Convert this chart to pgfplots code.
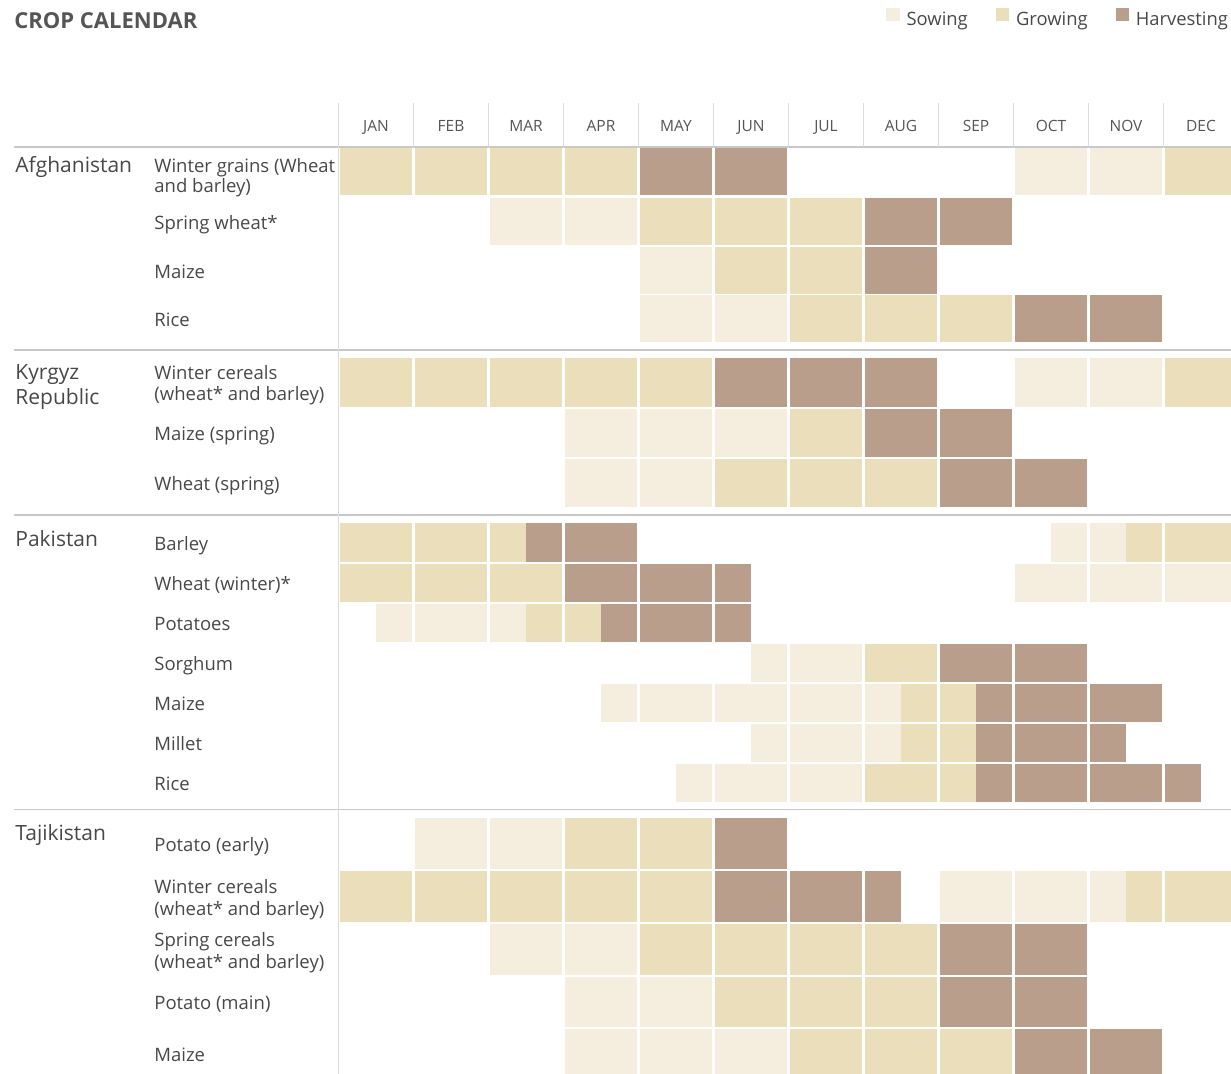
\documentclass[border=0pt]{standalone}
\usepackage{pgfplots}
\pgfplotsset{compat=1.18}
\usepackage{fontspec}
\setmainfont{Open Sans}
\definecolor{csow}{RGB}{245,237,222}
\definecolor{cgrow}{RGB}{235,223,187}
\definecolor{charv}{RGB}{184,158,139}
\definecolor{txt}{RGB}{72,72,72}
\definecolor{ttl}{RGB}{85,85,85}
\definecolor{rulec}{RGB}{200,200,200}
\definecolor{vrulec}{RGB}{220,220,220}
\newcommand{\lab}{\fontsize{9.25pt}{11pt}\selectfont}
\newcommand{\ctry}{\fontsize{10.5pt}{12pt}\selectfont}
\newcommand{\mon}{\fontsize{7.75pt}{9pt}\selectfont}
% a filled rectangle mark whose size (in axis units) comes from the data
\pgfdeclareplotmark{cropcell}{%
  \pgfpathrectanglecorners
    {\pgfpoint{-0.5*\cw*\pgfplotsunitxlength}{-0.5*\ch*\pgfplotsunitylength}}
    {\pgfpoint{0.5*\cw*\pgfplotsunitxlength}{0.5*\ch*\pgfplotsunitylength}}%
  \pgfusepathqfill}
\begin{document}
\begin{tikzpicture}
\begin{axis}[
  scale only axis, width=615.5pt, height=537pt,
  xmin=-4.51333, xmax=11.9, ymin=0, ymax=1074, y dir=reverse,
  disabledatascaling,
  hide axis, clip=false,
  declare function={sh(\x)=0.0167*(abs(\x-round(\x))<0.01);},
  legend columns=3,
  legend cell align=left,
  legend style={draw=none, fill=none, inner sep=0pt, outer sep=0pt,
    at={(axis description cs:0.99756,0.99255)}, anchor=north east,
    font=\fontsize{9.2pt}{11pt}\selectfont, text=txt,
    nodes={inner sep=0pt},
    /tikz/every odd column/.append style={column sep=3.5pt},
    /tikz/every even column/.append style={column sep=14pt}},
]
\addlegendimage{legend image code/.code={\fill[csow] (0pt,-0.3pt) rectangle (6.2pt,5.9pt);}}
\addlegendentry{Sowing}
\addlegendimage{legend image code/.code={\fill[cgrow] (0pt,-0.3pt) rectangle (6.2pt,5.9pt);}}
\addlegendentry{Growing}
\addlegendimage{legend image code/.code={\fill[charv] (0pt,-0.3pt) rectangle (6.2pt,5.9pt);}}
\addlegendentry{Harvesting}

% rules
\addplot[rulec, line width=0.8pt, forget plot] coordinates {(-4.3267,147.3) (11.9,147.3)};
\addplot[rulec, line width=0.8pt, forget plot] coordinates {(-4.3267,350) (11.9,350)};
\addplot[rulec, line width=0.8pt, forget plot] coordinates {(-4.3267,515.3) (11.9,515.3)};
\addplot[rulec, line width=0.8pt, forget plot] coordinates {(-4.3267,809.3) (11.9,809.3)};
\addplot[vrulec, line width=0.6pt, forget plot] coordinates {(0,103) (0,1074)};
\pgfplotsinvokeforeach{1,...,11}{
  \addplot[vrulec, line width=0.6pt, forget plot] coordinates {(#1,103) (#1,147)};
}

% cells: x0 x1 = months (JAN = 0..1), y0 y1 = row band (px from top)
% Sowing
\addplot[only marks, mark=cropcell, forget plot, color=csow, mark options={draw=none, fill=csow},
    visualization depends on={\thisrow{x1}-sh(\thisrow{x1})-\thisrow{x0}-sh(\thisrow{x0}) \as \cw},
    visualization depends on={\thisrow{y1}-\thisrow{y0} \as \ch}]
  table[x expr={(\thisrow{x0}+sh(\thisrow{x0})+\thisrow{x1}-sh(\thisrow{x1}))/2},
        y expr={(\thisrow{y0}+\thisrow{y1})/2}] {
x0 x1 y0 y1
9 10 148 195
10 11 148 195
2 3 198 245
3 4 198 245
4 5 247 294
4 5 295 342
5 6 295 342
9 10 358 407
10 11 358 407
3 4 409 457
4 5 409 457
5 6 409 457
3 4 459 507
4 5 459 507
9.5 10 523 562
10 10.5 523 562
9 10 564 602
10 11 564 602
11 12 564 602
0.5 1 604 642
1 2 604 642
2 2.5 604 642
5.5 6 644 682
6 7 644 682
3.5 4 684 722
4 5 684 722
5 6 684 722
6 7 684 722
7 7.5 684 722
5.5 6 724 762
6 7 724 762
7 7.5 724 762
4.5 5 764 802
5 6 764 802
6 7 764 802
1 2 818 869
2 3 818 869
8 9 871 922
9 10 871 922
10 10.5 871 922
2 3 924 975
3 4 924 975
3 4 977 1027
4 5 977 1027
3 4 1029 1080
4 5 1029 1080
5 6 1029 1080
};
% Growing
\addplot[only marks, mark=cropcell, forget plot, color=cgrow, mark options={draw=none, fill=cgrow},
    visualization depends on={\thisrow{x1}-sh(\thisrow{x1})-\thisrow{x0}-sh(\thisrow{x0}) \as \cw},
    visualization depends on={\thisrow{y1}-\thisrow{y0} \as \ch}]
  table[x expr={(\thisrow{x0}+sh(\thisrow{x0})+\thisrow{x1}-sh(\thisrow{x1}))/2},
        y expr={(\thisrow{y0}+\thisrow{y1})/2}] {
x0 x1 y0 y1
0 1 148 195
1 2 148 195
2 3 148 195
3 4 148 195
11 12 148 195
4 5 198 245
5 6 198 245
6 7 198 245
5 6 247 294
6 7 247 294
6 7 295 342
7 8 295 342
8 9 295 342
0 1 358 407
1 2 358 407
2 3 358 407
3 4 358 407
4 5 358 407
11 12 358 407
6 7 409 457
5 6 459 507
6 7 459 507
7 8 459 507
0 1 523 562
1 2 523 562
2 2.5 523 562
10.5 11 523 562
11 12 523 562
0 1 564 602
1 2 564 602
2 3 564 602
2.5 3 604 642
3 3.5 604 642
7 8 644 682
7.5 8 684 722
8 8.5 684 722
7.5 8 724 762
8 8.5 724 762
7 8 764 802
8 8.5 764 802
3 4 818 869
4 5 818 869
0 1 871 922
1 2 871 922
2 3 871 922
3 4 871 922
4 5 871 922
10.5 11 871 922
11 12 871 922
4 5 924 975
5 6 924 975
6 7 924 975
7 8 924 975
5 6 977 1027
6 7 977 1027
7 8 977 1027
6 7 1029 1080
7 8 1029 1080
8 9 1029 1080
};
% Harvesting
\addplot[only marks, mark=cropcell, forget plot, color=charv, mark options={draw=none, fill=charv},
    visualization depends on={\thisrow{x1}-sh(\thisrow{x1})-\thisrow{x0}-sh(\thisrow{x0}) \as \cw},
    visualization depends on={\thisrow{y1}-\thisrow{y0} \as \ch}]
  table[x expr={(\thisrow{x0}+sh(\thisrow{x0})+\thisrow{x1}-sh(\thisrow{x1}))/2},
        y expr={(\thisrow{y0}+\thisrow{y1})/2}] {
x0 x1 y0 y1
4 5 148 195
5 6 148 195
7 8 198 245
8 9 198 245
7 8 247 294
9 10 295 342
10 11 295 342
5 6 358 407
6 7 358 407
7 8 358 407
7 8 409 457
8 9 409 457
8 9 459 507
9 10 459 507
2.5 3 523 562
3 4 523 562
3 4 564 602
4 5 564 602
5 5.5 564 602
3.5 4 604 642
4 5 604 642
5 5.5 604 642
8 9 644 682
9 10 644 682
8.5 9 684 722
9 10 684 722
10 11 684 722
8.5 9 724 762
9 10 724 762
10 10.5 724 762
8.5 9 764 802
9 10 764 802
10 11 764 802
11 11.5 764 802
5 6 818 869
5 6 871 922
6 7 871 922
7 7.5 871 922
8 9 924 975
9 10 924 975
8 9 977 1027
9 10 977 1027
9 10 1029 1080
10 11 1029 1080
};

% title
\node[anchor=base west, inner sep=0pt, text=ttl, font=\fontsize{11pt}{13pt}\selectfont\bfseries] at (axis cs:-4.3267,28.3) {CROP CALENDAR};

% month labels
\node[anchor=base, inner sep=0pt, text=ttl, font=\mon] at (axis cs:0.5,132) {JAN};
\node[anchor=base, inner sep=0pt, text=ttl, font=\mon] at (axis cs:1.5,132) {FEB};
\node[anchor=base, inner sep=0pt, text=ttl, font=\mon] at (axis cs:2.5,132) {MAR};
\node[anchor=base, inner sep=0pt, text=ttl, font=\mon] at (axis cs:3.5,132) {APR};
\node[anchor=base, inner sep=0pt, text=ttl, font=\mon] at (axis cs:4.5,132) {MAY};
\node[anchor=base, inner sep=0pt, text=ttl, font=\mon] at (axis cs:5.5,132) {JUN};
\node[anchor=base, inner sep=0pt, text=ttl, font=\mon] at (axis cs:6.5,132) {JUL};
\node[anchor=base, inner sep=0pt, text=ttl, font=\mon] at (axis cs:7.5,132) {AUG};
\node[anchor=base, inner sep=0pt, text=ttl, font=\mon] at (axis cs:8.5,132) {SEP};
\node[anchor=base, inner sep=0pt, text=ttl, font=\mon] at (axis cs:9.5,132) {OCT};
\node[anchor=base, inner sep=0pt, text=ttl, font=\mon] at (axis cs:10.5,132) {NOV};
\node[anchor=base, inner sep=0pt, text=ttl, font=\mon] at (axis cs:11.5,132) {DEC};

% country labels
\node[anchor=base west, inner sep=0pt, text=txt, font=\ctry] at (axis cs:-4.3133,172.3) {Afghanistan};
\node[anchor=base west, inner sep=0pt, text=txt, font=\ctry] at (axis cs:-4.3133,380) {Kyrgyz};
\node[anchor=base west, inner sep=0pt, text=txt, font=\ctry] at (axis cs:-4.3133,405) {Republic};
\node[anchor=base west, inner sep=0pt, text=txt, font=\ctry] at (axis cs:-4.3133,546) {Pakistan};
\node[anchor=base west, inner sep=0pt, text=txt, font=\ctry] at (axis cs:-4.3133,840) {Tajikistan};

% crop labels
\node[anchor=base west, inner sep=0pt, text=txt, font=\lab] at (axis cs:-2.46,172.3) {Winter grains (Wheat};
\node[anchor=base west, inner sep=0pt, text=txt, font=\lab] at (axis cs:-2.46,192.7) {and barley)};
\node[anchor=base west, inner sep=0pt, text=txt, font=\lab] at (axis cs:-2.46,229.3) {Spring wheat*};
\node[anchor=base west, inner sep=0pt, text=txt, font=\lab] at (axis cs:-2.46,278.3) {Maize};
\node[anchor=base west, inner sep=0pt, text=txt, font=\lab] at (axis cs:-2.46,326.3) {Rice};
\node[anchor=base west, inner sep=0pt, text=txt, font=\lab] at (axis cs:-2.46,380) {Winter cereals};
\node[anchor=base west, inner sep=0pt, text=txt, font=\lab] at (axis cs:-2.46,401) {(wheat* and barley)};
\node[anchor=base west, inner sep=0pt, text=txt, font=\lab] at (axis cs:-2.46,441) {Maize (spring)};
\node[anchor=base west, inner sep=0pt, text=txt, font=\lab] at (axis cs:-2.46,491) {Wheat (spring)};
\node[anchor=base west, inner sep=0pt, text=txt, font=\lab] at (axis cs:-2.46,550.5) {Barley};
\node[anchor=base west, inner sep=0pt, text=txt, font=\lab] at (axis cs:-2.46,590.5) {Wheat (winter)*};
\node[anchor=base west, inner sep=0pt, text=txt, font=\lab] at (axis cs:-2.46,630.5) {Potatoes};
\node[anchor=base west, inner sep=0pt, text=txt, font=\lab] at (axis cs:-2.46,670.5) {Sorghum};
\node[anchor=base west, inner sep=0pt, text=txt, font=\lab] at (axis cs:-2.46,710.5) {Maize};
\node[anchor=base west, inner sep=0pt, text=txt, font=\lab] at (axis cs:-2.46,750.5) {Millet};
\node[anchor=base west, inner sep=0pt, text=txt, font=\lab] at (axis cs:-2.46,790.5) {Rice};
\node[anchor=base west, inner sep=0pt, text=txt, font=\lab] at (axis cs:-2.46,851) {Potato (early)};
\node[anchor=base west, inner sep=0pt, text=txt, font=\lab] at (axis cs:-2.46,893) {Winter cereals};
\node[anchor=base west, inner sep=0pt, text=txt, font=\lab] at (axis cs:-2.46,915) {(wheat* and barley)};
\node[anchor=base west, inner sep=0pt, text=txt, font=\lab] at (axis cs:-2.46,946) {Spring cereals};
\node[anchor=base west, inner sep=0pt, text=txt, font=\lab] at (axis cs:-2.46,968) {(wheat* and barley)};
\node[anchor=base west, inner sep=0pt, text=txt, font=\lab] at (axis cs:-2.46,1009) {Potato (main)};
\node[anchor=base west, inner sep=0pt, text=txt, font=\lab] at (axis cs:-2.46,1061) {Maize};
\end{axis}
\pgfresetboundingbox
\path (current axis.south west) rectangle (current axis.north east);
\end{tikzpicture}
\end{document}
